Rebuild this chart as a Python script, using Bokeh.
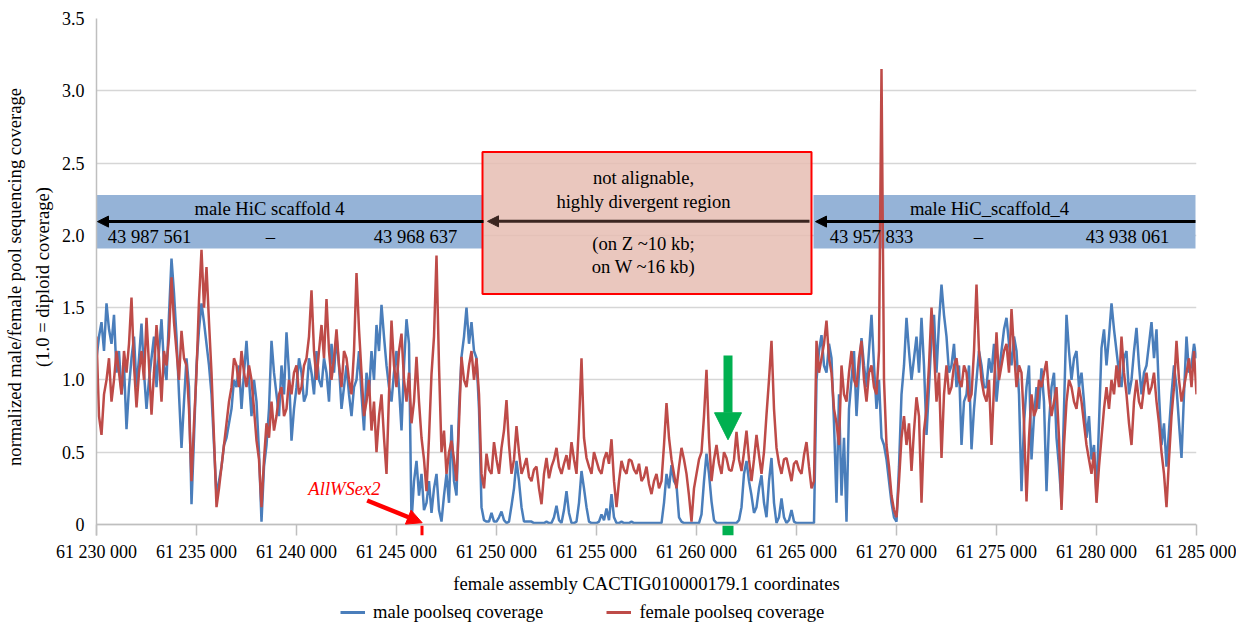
import numpy as np
from bokeh.plotting import figure
from bokeh.layouts import column
from bokeh.models import (Range1d, FixedTicker, BoxAnnotation, Label, Arrow,
                          NormalHead, Span, Legend, LegendItem, Title)
from bokeh.embed import file_html
from bokeh.resources import INLINE

# ---------------- data ----------------
start_pos = 61230000
bin_size = 125

male = [
    1.15, 1.30, 1.40, 1.20, 1.53, 1.35, 1.25, 1.45, 1.05, 1.20,
    0.90, 1.10, 0.66, 0.95, 1.15, 1.30, 0.95, 1.15, 1.39, 1.05,
    0.80, 1.00, 1.15, 1.30, 0.95, 1.20, 1.42, 1.10, 1.00, 1.45,
    1.84, 1.60, 1.30, 0.90, 0.53, 0.85, 1.15, 0.95, 0.14, 0.60,
    1.10, 1.35, 1.53, 1.40, 1.25, 1.10, 0.90, 0.55, 0.20, 0.30,
    0.40, 0.55, 0.60, 0.70, 0.80, 1.00, 0.95, 1.10, 0.80, 1.05,
    1.27, 1.00, 0.75, 1.00, 0.85, 0.50, 0.02, 0.40, 0.55, 0.80,
    1.27, 1.05, 0.90, 0.75, 1.10, 0.90, 1.33, 1.05, 0.58, 0.80,
    0.95, 1.15, 1.05, 0.85, 0.90, 1.15, 1.05, 0.90, 1.20, 1.00,
    0.95, 1.15, 1.05, 0.85, 1.25, 1.05, 1.30, 1.10, 0.80, 0.95,
    1.10, 0.90, 0.75, 0.95, 1.00, 1.20, 0.90, 0.65, 1.05, 0.90,
    1.20, 1.00, 1.38, 1.20, 1.52, 1.30, 1.10, 0.95, 0.85, 1.05,
    1.20, 0.95, 0.65, 1.10, 1.42, 1.25, 0.02, 0.30, 0.44, 0.20,
    0.35, 0.10, 0.15, 0.30, 0.08, 0.25, 0.35, 0.10, 0.02, 0.20,
    0.35, 0.15, 0.69, 0.30, 0.20, 0.80, 1.16, 1.30, 1.50, 1.25,
    1.40, 1.20, 1.15, 0.80, 0.12, 0.03, 0.02, 0.02, 0.08, 0.02,
    0.02, 0.05, 0.09, 0.03, 0.01, 0.02, 0.13, 0.25, 0.44, 0.30,
    0.12, 0.02, 0.02, 0.02, 0.02, 0.01, 0.01, 0.01, 0.01, 0.01,
    0.02, 0.01, 0.01, 0.05, 0.13, 0.03, 0.01, 0.10, 0.23, 0.08,
    0.01, 0.01, 0.02, 0.15, 0.37, 0.25, 0.12, 0.02, 0.01, 0.01,
    0.01, 0.02, 0.07, 0.03, 0.11, 0.03, 0.21, 0.05, 0.01, 0.01,
    0.02, 0.01, 0.01, 0.01, 0.02, 0.01, 0.01, 0.01, 0.01, 0.01,
    0.01, 0.01, 0.01, 0.01, 0.01, 0.01, 0.01, 0.15, 0.35, 0.25,
    0.41, 0.30, 0.27, 0.05, 0.02, 0.01, 0.01, 0.01, 0.01, 0.01,
    0.01, 0.01, 0.07, 0.30, 0.49, 0.35, 0.16, 0.03, 0.01, 0.01,
    0.01, 0.01, 0.01, 0.01, 0.01, 0.01, 0.01, 0.03, 0.12, 0.35,
    0.44, 0.30, 0.20, 0.08, 0.12, 0.25, 0.34, 0.15, 0.05, 0.30,
    0.46, 0.15, 0.01, 0.05, 0.18, 0.05, 0.01, 0.03, 0.10, 0.02,
    0.01, 0.01, 0.01, 0.01, 0.01, 0.01, 0.01, 0.01, 1.00, 1.20,
    1.31, 1.10, 1.05, 1.25, 1.15, 0.70, 0.15, 0.90, 0.20, 0.60,
    0.02, 0.80, 1.00, 1.20, 0.75, 1.05, 1.29, 1.10, 0.95, 1.20,
    1.45, 1.10, 0.80, 1.00, 0.60, 0.55, 0.45, 0.30, 0.15, 0.05,
    0.02, 0.40, 0.90, 1.10, 1.43, 1.20, 1.00, 1.15, 1.30, 1.05,
    1.43, 1.10, 0.62, 0.95, 1.30, 1.45, 1.05, 1.40, 1.66, 1.45,
    1.30, 1.05, 1.10, 1.25, 0.95, 1.10, 0.55, 0.85, 0.90, 1.10,
    0.52, 0.80, 1.00, 1.20, 1.10, 0.95, 0.95, 1.15, 1.05, 1.25,
    0.85, 1.05, 1.20, 1.35, 1.43, 1.25, 1.10, 1.30, 1.20, 0.90,
    0.23, 0.70, 0.95, 1.10, 0.45, 0.75, 0.95, 0.80, 1.08, 0.85,
    0.23, 0.70, 0.95, 1.05, 0.60, 0.40, 0.15, 0.80, 1.45, 1.20,
    1.00, 1.15, 1.20, 0.95, 1.05, 0.85, 0.60, 0.75, 0.45, 0.55,
    0.20, 0.70, 1.22, 1.35, 1.10, 1.30, 1.53, 1.35, 1.20, 1.05,
    0.95, 1.15, 1.20, 0.90, 1.00, 1.20, 1.36, 1.10, 0.90, 1.05,
    1.10, 1.25, 1.40, 1.15, 1.35, 0.90, 0.55, 0.70, 0.40, 0.65,
    0.90, 1.10, 0.95, 0.70, 0.46, 0.90, 1.30, 1.05, 1.10, 1.25,
    1.15,
]

female = [
    1.30, 0.75, 0.62, 0.90, 1.00, 1.15, 0.85, 1.00, 1.20, 1.05,
    0.90, 1.20, 1.05, 1.25, 1.57, 1.10, 0.81, 1.05, 1.20, 1.00,
    1.43, 1.10, 0.76, 1.05, 1.38, 1.15, 0.85, 1.20, 1.10, 1.30,
    1.71, 1.40, 1.20, 1.00, 1.34, 1.15, 1.10, 0.80, 0.30, 0.70,
    1.05, 1.55, 1.90, 1.50, 1.78, 1.40, 1.05, 0.60, 0.12, 0.25,
    0.40, 0.55, 0.70, 0.85, 0.95, 1.15, 1.10, 0.95, 1.20, 1.05,
    0.95, 1.10, 1.00, 0.80, 0.58, 0.45, 0.12, 0.45, 0.70, 0.60,
    0.85, 0.65, 0.75, 0.90, 0.95, 0.75, 0.80, 1.00, 0.90, 1.05,
    1.10, 0.90, 0.95, 1.10, 1.15, 1.30, 1.62, 1.20, 1.00, 1.20,
    1.38, 1.15, 1.56, 1.20, 1.00, 1.15, 1.35, 1.10, 0.95, 1.20,
    1.15, 1.00, 0.90, 1.20, 1.74, 1.35, 1.05, 0.75, 0.85, 1.00,
    0.65, 0.85, 0.50, 0.75, 0.90, 0.60, 0.35, 0.90, 1.41, 1.10,
    0.95, 1.20, 1.32, 1.00, 0.85, 1.05, 0.70, 0.85, 1.16, 0.85,
    0.60, 0.45, 0.23, 0.60, 1.04, 1.30, 1.86, 1.10, 0.50, 0.65,
    0.35, 0.50, 0.58, 0.45, 0.30, 0.70, 1.16, 1.00, 0.95, 1.10,
    1.20, 1.00, 1.15, 0.90, 0.35, 0.25, 0.49, 0.38, 0.35, 0.57,
    0.45, 0.35, 0.53, 0.65, 0.86, 0.55, 0.35, 0.45, 0.68, 0.50,
    0.35, 0.40, 0.46, 0.33, 0.30, 0.38, 0.40, 0.25, 0.14, 0.35,
    0.46, 0.32, 0.40, 0.45, 0.53, 0.40, 0.35, 0.42, 0.48, 0.38,
    0.57, 0.45, 0.35, 0.70, 1.15, 0.60, 0.46, 0.40, 0.35, 0.50,
    0.44, 0.38, 0.35, 0.45, 0.50, 0.42, 0.59, 0.30, 0.12, 0.30,
    0.44, 0.38, 0.35, 0.45, 0.44, 0.38, 0.35, 0.42, 0.30, 0.33,
    0.40, 0.28, 0.21, 0.30, 0.35, 0.25, 0.30, 0.55, 0.84, 0.60,
    0.45, 0.35, 0.25, 0.40, 0.53, 0.45, 0.35, 0.20, 0.02, 0.25,
    0.35, 0.45, 0.50, 0.75, 1.07, 0.60, 0.30, 0.45, 0.55, 0.42,
    0.35, 0.50, 0.46, 0.38, 0.37, 0.45, 0.64, 0.45, 0.37, 0.50,
    0.65, 0.45, 0.30, 0.45, 0.62, 0.48, 0.35, 0.50, 0.76, 1.00,
    1.27, 0.80, 0.53, 0.42, 0.35, 0.45, 0.46, 0.38, 0.30, 0.42,
    0.44, 0.38, 0.35, 0.48, 0.57, 0.40, 0.25, 0.30, 1.27, 1.05,
    1.15, 1.25, 1.41, 1.15, 1.05, 0.80, 0.70, 0.55, 1.10, 0.90,
    0.85, 1.05, 1.20, 1.00, 0.95, 1.15, 1.27, 1.00, 0.85, 1.05,
    1.10, 0.95, 0.90, 1.20, 3.15, 1.00, 0.55, 0.40, 0.20, 0.10,
    0.05, 0.30, 0.60, 0.75, 0.55, 0.70, 0.37, 0.65, 0.88, 0.75,
    0.15, 0.65, 0.80, 1.10, 1.50, 1.20, 0.85, 1.05, 0.46, 0.90,
    1.10, 0.90, 0.95, 1.10, 1.15, 1.00, 0.95, 1.10, 1.05, 0.85,
    0.90, 1.20, 1.66, 1.20, 1.00, 0.90, 0.85, 1.00, 0.55, 0.95,
    1.33, 1.00, 1.10, 1.20, 1.25, 1.05, 1.49, 1.20, 0.95, 1.10,
    1.05, 0.70, 0.16, 0.60, 0.90, 0.75, 0.80, 1.00, 0.95, 1.05,
    1.13, 0.90, 0.75, 0.85, 0.95, 0.60, 0.10, 0.55, 0.85, 1.00,
    0.95, 0.85, 0.80, 0.95, 0.85, 0.70, 0.55, 0.45, 0.35, 0.50,
    0.15, 0.40, 0.60, 0.80, 0.95, 0.80, 1.00, 0.90, 1.10, 0.95,
    1.30, 1.05, 0.90, 0.70, 0.55, 0.85, 1.00, 0.85, 0.80, 0.95,
    1.05, 0.90, 0.95, 1.05, 0.85, 0.70, 0.50, 0.35, 0.12, 0.45,
    0.75, 0.95, 1.27, 1.00, 0.85, 0.95, 1.05, 1.15, 0.95, 1.20,
    0.90,
]

positions = [start_pos + i * bin_size for i in range(len(male))]

x_ticks = [61230000, 61235000, 61240000, 61245000, 61250000, 61255000,
           61260000, 61265000, 61270000, 61275000, 61280000, 61285000]
x_tick_labels = ["61 230 000", "61 235 000", "61 240 000", "61 245 000",
                 "61 250 000", "61 255 000", "61 260 000", "61 265 000",
                 "61 270 000", "61 275 000", "61 280 000", "61 285 000"]
y_ticks = [0, 0.5, 1.0, 1.5, 2.0, 2.5, 3.0, 3.5]
y_tick_labels = ["0", "0.5", "1.0", "1.5", "2.0", "2.5", "3.0", "3.5"]

series_names = ["male poolseq coverage", "female poolseq coverage"]
x_title = "female assembly CACTIG010000179.1 coordinates"
y_title = ["normalized male/female pool sequencing coverage",
           "(1.0 = diploid coverage)"]

# ---------------- styling ----------------
FONT = "Liberation Serif"
FS = "18px"      # tick labels
FS2 = "18.6px"   # other texts
BLUE = "#4A7EBB"
RED = "#BE4B48"
GREEN = "#00B050"
BAND = "#95B3D7"

MAIN_H = 596
p = figure(width=1236, height=MAIN_H,
           x_range=Range1d(61230000, 61285000),
           y_range=Range1d(-0.0761, 3.5),
           output_backend="svg", toolbar_location=None,
           min_border_left=96, min_border_right=40,
           min_border_top=18, min_border_bottom=MAIN_H - 535)
p.outline_line_color = None
p.xgrid.visible = False
p.ygrid.grid_line_color = "#d6d6d6"
p.ygrid.grid_line_width = 1.5

p.xaxis.ticker = FixedTicker(ticks=x_ticks)
p.xaxis.major_label_overrides = dict(zip(x_ticks, x_tick_labels))
p.xaxis.axis_line_color = None
p.xaxis.major_tick_in = 11
p.xaxis.major_tick_out = 0
p.xaxis.major_tick_line_color = "#bfbfbf"
p.xaxis.major_tick_line_width = 1.5
p.xaxis.minor_tick_line_color = None
p.xaxis.major_label_standoff = 6
p.xaxis.major_label_text_font = FONT
p.xaxis.major_label_text_font_size = FS
p.xaxis.major_label_text_color = "black"
p.xaxis.axis_label = x_title
p.xaxis.axis_label_text_font = FONT
p.xaxis.axis_label_text_font_size = FS2
p.xaxis.axis_label_text_font_style = "normal"
p.xaxis.axis_label_text_color = "black"
p.xaxis.axis_label_standoff = 8

p.yaxis.ticker = FixedTicker(ticks=y_ticks)
p.yaxis.major_label_overrides = dict(zip(y_ticks, y_tick_labels))
p.yaxis.axis_line_color = "#bfbfbf"
p.yaxis.axis_line_width = 1.5
p.yaxis.major_tick_in = 0
p.yaxis.major_tick_out = 0
p.yaxis.minor_tick_line_color = None
p.yaxis.major_label_standoff = 12
p.yaxis.major_label_text_font = FONT
p.yaxis.major_label_text_font_size = FS
p.yaxis.major_label_text_color = "black"

# y-axis title lines (closest to axis first)
for txt, so in ((y_title[1], 11), (y_title[0], 0)):
    p.add_layout(Title(text=txt, align="center", text_font=FONT, text_font_size=FS2,
                       text_font_style="normal", text_color="black", standoff=so), "left")

p.add_layout(Span(location=0, dimension="width", line_color="#bfbfbf", line_width=1.5))

# annotation bands / box (under data)
p.add_layout(BoxAnnotation(left=61230000, right=61249350, bottom=1.909, top=2.279,
                           fill_color=BAND, fill_alpha=1, line_color=None, level="underlay"))
p.add_layout(BoxAnnotation(left=61265850, right=61284950, bottom=1.909, top=2.279,
                           fill_color=BAND, fill_alpha=1, line_color=None, level="underlay"))
p.add_layout(BoxAnnotation(left=61249300, right=61265750, bottom=1.594, top=2.576,
                           fill_color="#E6BDB3", fill_alpha=0.85, line_color="#FF0000",
                           line_alpha=1, line_width=2, level="underlay"))

# data
r_m = p.line(positions, male, line_color=BLUE, line_width=2.5)
r_f = p.line(positions, female, line_color=RED, line_width=2.5)

# arrows
p.add_layout(Arrow(end=NormalHead(size=11, fill_color="black", line_color="black"),
                   x_start=61249350, y_start=2.095, x_end=61230050, y_end=2.095,
                   line_color="black", line_width=3))
p.add_layout(Arrow(end=NormalHead(size=11, fill_color="black", line_color="black"),
                   x_start=61284950, y_start=2.095, x_end=61265950, y_end=2.095,
                   line_color="black", line_width=3))
p.add_layout(Arrow(end=NormalHead(size=11, fill_color="#3b2621", line_color="#3b2621"),
                   x_start=61265650, y_start=2.097, x_end=61249550, y_end=2.097,
                   line_color="#3b2621", line_width=3))
p.add_layout(Arrow(end=NormalHead(size=15, fill_color="red", line_color="red"),
                   x_start=61243533, y_start=0.166, x_end=61246283, y_end=0.012,
                   line_color="red", line_width=4.5))
p.add_layout(Arrow(end=NormalHead(size=27, fill_color=GREEN, line_color=GREEN),
                   x_start=61261575, y_start=1.169, x_end=61261575, y_end=0.586,
                   line_color=GREEN, line_width=9))

# small markers under the axis line
p.add_layout(BoxAnnotation(left=61246200, right=61246350, bottom=-0.0761, top=-0.008,
                           fill_color="red", fill_alpha=1, line_color=None))
p.add_layout(BoxAnnotation(left=61261300, right=61261850, bottom=-0.0761, top=-0.008,
                           fill_color=GREEN, fill_alpha=1, line_color=None))

def lab(x, y, t, **kw):
    d = dict(text_font=FONT, text_font_size=FS2, text_align="center",
             text_baseline="middle", text_color="black")
    d.update(kw)
    p.add_layout(Label(x=x, y=y, text=t, **d))

lab(61238650, 2.185, "male HiC scaffold 4")
lab(61232650, 1.992, "43 987 561")
lab(61238700, 1.992, "–")
lab(61245950, 1.992, "43 968 637")
lab(61274650, 2.185, "male HiC_scaffold_4")
lab(61268750, 1.992, "43 957 833")
lab(61274100, 1.992, "–")
lab(61281550, 1.992, "43 938 061")
lab(61257350, 2.400, "not alignable,")
lab(61257350, 2.237, "highly divergent region")
lab(61257350, 1.943, "(on Z ~10 kb;")
lab(61257350, 1.784, "on W ~16 kb)")
lab(61242400, 0.249, "AllWSex2", text_font_style="italic", text_color="red")

# ---------------- legend strip (separate small figure below) ----------------
LEG_H = 622 - MAIN_H
pl = figure(width=1236, height=LEG_H, x_range=Range1d(0, 1100), y_range=Range1d(0, LEG_H),
            output_backend="svg", toolbar_location=None,
            min_border_left=96, min_border_right=40, min_border_top=0, min_border_bottom=0)
pl.axis.visible = False
pl.grid.visible = False
pl.outline_line_color = None
# legend swatch renderers (kept outside the visible range)
lm = pl.line([-50, -40], [-50, -50], line_color=BLUE, line_width=3)
lf = pl.line([-50, -40], [-50, -50], line_color=RED, line_width=3)
legend = Legend(items=[LegendItem(label=series_names[0], renderers=[lm]),
                       LegendItem(label=series_names[1], renderers=[lf])],
                orientation="horizontal", location=(244, -1),
                spacing=63, glyph_width=25, glyph_height=18, label_standoff=8,
                padding=0, margin=0, border_line_alpha=0, background_fill_alpha=0,
                label_text_font=FONT, label_text_font_size=FS2, label_text_color="black")
pl.add_layout(legend)

layout = column(p, pl, spacing=0)
open("out.html", "w").write(file_html(layout, INLINE))
